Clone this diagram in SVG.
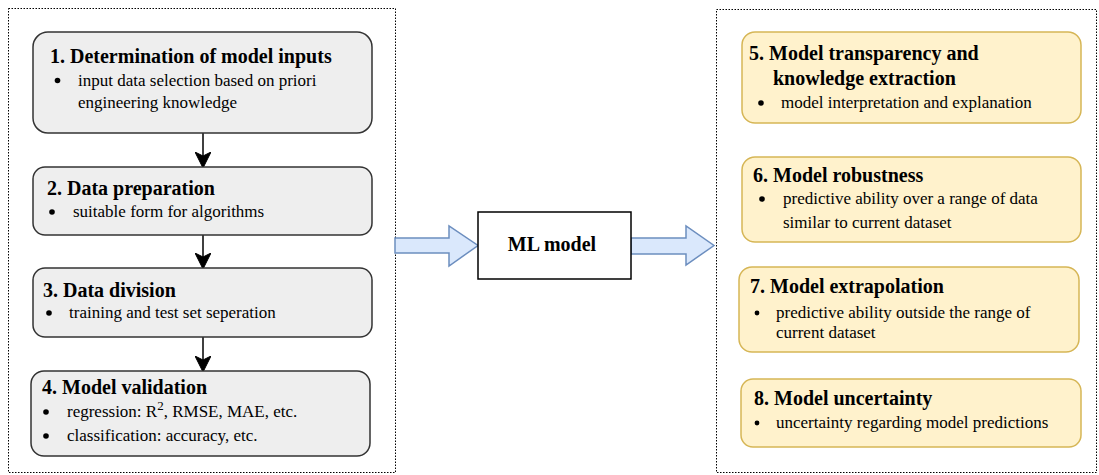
<svg xmlns="http://www.w3.org/2000/svg" width="1099" height="475" viewBox="0 0 1099 475">
  <defs>
    <style>
      .frame { fill: none; stroke: #000; stroke-width: 1; stroke-dasharray: 1.5 1.5; }
      .step { fill: #eeeeee; stroke: #333; stroke-width: 1.5; }
      .prop { fill: #fff2cc; stroke: #d6b656; stroke-width: 1.5; }
      .model { fill: #fff; stroke: #000; stroke-width: 1.5; }
      .flow { fill: #dae8fc; stroke: #6c8ebf; stroke-width: 1.5; }
      .conn { stroke: #000; stroke-width: 1.5; fill: none; }
      .title { font-family: "Liberation Serif", "Times New Roman", serif; font-weight: bold; font-size: 20px; fill: #000; }
      .item { font-family: "Liberation Serif", "Times New Roman", serif; font-size: 17px; fill: #000; }
      .dot { fill: #000; }
    </style>
    <marker id="arrow" viewBox="0 0 16 16" refX="15" refY="8" markerWidth="16" markerHeight="16" markerUnits="userSpaceOnUse" orient="auto">
      <path d="M0,0 L16,8 L0,16 L4,8 Z" fill="#000" stroke="#000" stroke-width="1"/>
    </marker>
  </defs>

  <!-- dotted group frames -->
  <rect class="frame" x="8.5" y="8.5" width="387" height="464"/>
  <rect class="frame" x="716.5" y="9.5" width="380" height="463"/>

  <!-- vertical connectors between the pipeline steps -->
  <g id="connectors">
    <line class="conn" x1="203" y1="133" x2="203" y2="167" marker-end="url(#arrow)"/>
    <line class="conn" x1="203" y1="235" x2="203" y2="268" marker-end="url(#arrow)"/>
    <line class="conn" x1="203" y1="337" x2="203" y2="371" marker-end="url(#arrow)"/>
    <!-- block arrows into and out of the model -->
    <path class="flow" d="M395,238 L449,238 L449,226 L478,245.5 L449,266 L449,253 L395,253 Z"/>
    <path class="flow" d="M631,238 L686,238 L686,226 L714,245.5 L686,265 L686,254 L631,254 Z"/>
  </g>

  <g id="step1">
    <rect class="step" x="33" y="32" width="339" height="101" rx="15"/>
    <text class="title" x="50" y="63">1. Determination of model inputs</text>
    <circle class="dot" cx="57.5" cy="80.5" r="2.8"/>
    <text class="item" x="78" y="86" font-size="16">input data selection based on priori</text>
    <text class="item" x="78" y="108" font-size="16">engineering knowledge</text>
  </g>

  <g id="step2">
    <rect class="step" x="33" y="167" width="339" height="68" rx="12"/>
    <text class="title" x="47" y="195">2. Data preparation</text>
    <circle class="dot" cx="52" cy="212" r="2.8"/>
    <text class="item" x="73" y="217">suitable form for algorithms</text>
  </g>

  <g id="step3">
    <rect class="step" x="33" y="268" width="339" height="69" rx="12"/>
    <text class="title" x="43" y="297">3. Data division</text>
    <circle class="dot" cx="49" cy="313" r="2.8"/>
    <text class="item" x="69" y="318">training and test set seperation</text>
  </g>

  <g id="step4">
    <rect class="step" x="31" y="371" width="339" height="85" rx="13"/>
    <text class="title" x="42" y="394">4. Model validation</text>
    <circle class="dot" cx="46" cy="412" r="2.8"/>
    <text class="item" x="67" y="417">regression: R<tspan dy="-7" font-size="13">2</tspan><tspan dy="7">, RMSE, MAE, etc.</tspan></text>
    <circle class="dot" cx="46" cy="436" r="2.8"/>
    <text class="item" x="67" y="441">classification: accuracy, etc.</text>
  </g>

  <g id="ml-model">
    <rect class="model" x="478" y="212" width="153" height="67"/>
    <text class="title" x="552" y="251" text-anchor="middle">ML model</text>
  </g>

  <g id="prop5">
    <rect class="prop" x="742" y="32" width="339" height="91" rx="13"/>
    <text class="title" x="749" y="60">5. Model transparency and</text>
    <text class="title" x="773" y="85">knowledge extraction</text>
    <circle class="dot" cx="761" cy="103" r="2.8"/>
    <text class="item" x="781" y="108">model interpretation and explanation</text>
  </g>

  <g id="prop6">
    <rect class="prop" x="742" y="157" width="339" height="85" rx="13"/>
    <text class="title" x="753" y="182">6. Model robustness</text>
    <circle class="dot" cx="762" cy="199" r="2.8"/>
    <text class="item" x="783" y="204">predictive ability over a range of data</text>
    <text class="item" x="783" y="228">similar to current dataset</text>
  </g>

  <g id="prop7">
    <rect class="prop" x="739" y="267" width="340" height="85" rx="13"/>
    <text class="title" x="750" y="293">7. Model extrapolation</text>
    <circle class="dot" cx="757" cy="313" r="2.4"/>
    <text class="item" x="776" y="318" font-size="16">predictive ability outside the range of</text>
    <text class="item" x="776" y="338" font-size="16">current dataset</text>
  </g>

  <g id="prop8">
    <rect class="prop" x="741" y="379" width="340" height="68" rx="12"/>
    <text class="title" x="754" y="405">8. Model uncertainty</text>
    <circle class="dot" cx="757" cy="423" r="2.4"/>
    <text class="item" x="776" y="428">uncertainty regarding model predictions</text>
  </g>
</svg>
